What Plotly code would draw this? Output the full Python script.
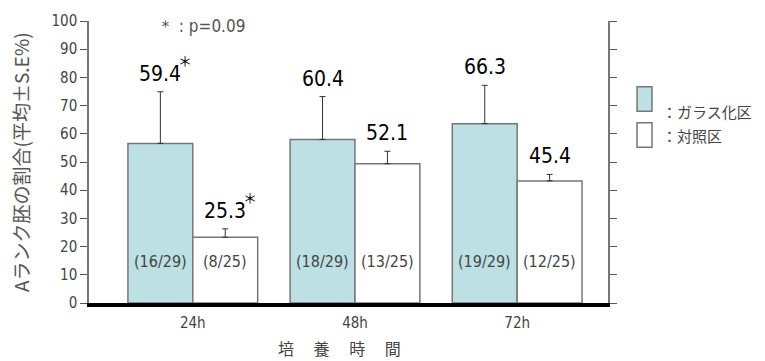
import plotly.graph_objects as go

categories = ["24h", "48h", "72h"]
series_names = ["ガラス化区", "対照区"]
series_colors = ["#BCE0E3", "#FFFFFF"]
glass_bar = [56.6, 58.0, 63.6]
control_bar = [23.3, 49.4, 43.3]
glass_err = [18.3, 15.2, 13.6]
control_err = [3.0, 4.4, 2.3]
glass_label = ["59.4", "60.4", "66.3"]
control_label = ["25.3", "52.1", "45.4"]
glass_star = [True, False, False]
control_star = [True, False, False]
glass_n = ["(16/29)", "(18/29)", "(19/29)"]
control_n = ["(8/25)", "(13/25)", "(12/25)"]
y_ticks = list(range(0, 101, 10))

NUM_FONT = "DejaVu Sans Condensed, Liberation Sans Narrow, Roboto, sans-serif"
JP_FONT = "Noto Sans CJK JP, sans-serif"
BW = 0.4

xs = list(range(len(categories)))
fig = go.Figure()
series = [
    (glass_bar, glass_err, glass_label, glass_star, glass_n, -BW),
    (control_bar, control_err, control_label, control_star, control_n, 0.0),
]
for i, (vals, errs, labels, stars, ns, off) in enumerate(series):
    fig.add_trace(go.Bar(
        x=xs, y=vals, name=series_names[i], width=BW, offset=off,
        marker=dict(color=series_colors[i], line=dict(color="#777777", width=1.5)),
        error_y=dict(type="data", array=errs, arrayminus=[0] * len(errs),
                     symmetric=False, color="#333333", thickness=1, width=3),
        showlegend=False,
    ))
    for j, x in enumerate(xs):
        xc = x + off + BW / 2
        top = vals[j] + errs[j]
        fig.add_annotation(x=xc, y=top, text=labels[j], showarrow=False,
                           yanchor="bottom", yshift=4,
                           font=dict(family=NUM_FONT, size=21, color="#000000"))
        if stars[j]:
            fig.add_annotation(x=xc, y=top, text="＊", showarrow=False,
                               yanchor="bottom", xanchor="left", yshift=20, xshift=16,
                               font=dict(family=JP_FONT, size=14, color="#000000"))
        fig.add_annotation(x=xc, y=14.8, text=ns[j], showarrow=False,
                           font=dict(family=NUM_FONT, size=16, color="#444444"))

# legend built from series
for i, name in enumerate(series_names):
    y0 = 0.767 - i * 0.128
    fig.add_shape(type="rect", xref="paper", yref="paper",
                  x0=1.0559, x1=1.0848, y0=y0 - 0.087, y1=y0,
                  fillcolor=series_colors[i], line=dict(color="#777777", width=1.5))
    fig.add_annotation(xref="paper", yref="paper", x=1.100, y=y0 - 0.0435,
                       text="：" + name, showarrow=False, xanchor="left",
                       font=dict(family=JP_FONT, size=15, color="#444444"))

fig.add_annotation(xref="paper", yref="paper", x=0.216, y=0.983,
                   xanchor="center", yanchor="middle",
                   text="＊ : p=0.09", showarrow=False,
                   font=dict(family=NUM_FONT, size=17, color="#555555"))
fig.add_annotation(xref="paper", yref="paper", x=0, y=0.5, xshift=-69,
                   xanchor="center", yanchor="middle",
                   text="Aランク胚の割合(平均±S.E%)", textangle=-90, showarrow=False,
                   font=dict(family=JP_FONT, size=19, color="#555555"))
fig.add_annotation(xref="paper", yref="paper", x=0.5, y=0, xshift=-9, yshift=-45,
                   xanchor="center", yanchor="middle",
                   text="培　 養　 時　 間", showarrow=False,
                   font=dict(family=JP_FONT, size=16, color="#444444"))

fig.update_layout(
    width=765, height=361,
    margin=dict(l=89, r=157, t=15, b=58),
    paper_bgcolor="white", plot_bgcolor="white",
    xaxis=dict(range=[-0.64, 2.56], tickvals=xs, ticktext=categories,
               showgrid=False, zeroline=False, showline=True,
               linecolor="#000000", linewidth=4, ticks="", ticklabelstandoff=3,
               tickfont=dict(family=NUM_FONT, size=15, color="#444444")),
    yaxis=dict(range=[0, 100], tickvals=y_ticks, showgrid=False, zeroline=False,
               showline=True, linecolor="#777777", linewidth=1.5,
               mirror="ticks", ticks="outside", ticklen=7, tickcolor="#555555",
               tickwidth=1,
               tickfont=dict(family=NUM_FONT, size=15, color="#444444")),
)

fig.write_html("out.html")
